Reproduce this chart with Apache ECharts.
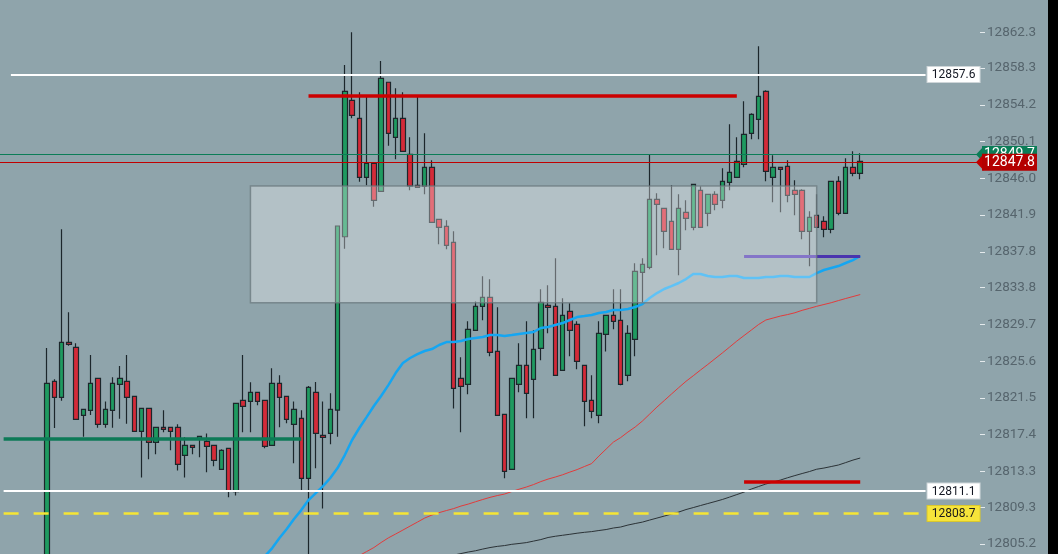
<!DOCTYPE html>
<html><head><meta charset="utf-8">
<script src="https://cdn.jsdelivr.net/npm/echarts@6.0.0/dist/echarts.min.js"></script>
<style>html,body{margin:0;padding:0;background:#000;}#c{width:1048px;height:554px;}</style>
</head><body><div id="c"></div>
<script>
// ---- data ----
const categories = Array.from({length: 135}, (_, i) => String(i + 1));
const firstSlot = 6;
const opens = [12800.0,12823.35,12821.56,12827.70,12827.14,12819.55,12820.11,12823.68,12818.55,12820.11,
12823.01,12823.35,12821.67,12817.77,12820.33,12816.54,12818.21,12818.21,12818.21,12815.09,
12816.20,12816.87,12816.65,12816.20,12813.53,12815.87,12811.03,12821.23,12821.11,12822.12,
12821.23,12816.20,12823.12,12821.67,12818.55,12819.22,12812.52,12822.12,12817.32,12817.54,
12820.14,12839.48,12854.71,12852.70,12846.11,12847.68,12844.55,12856.72,12850.58,12852.70,
12848.68,12845.22,12845.11,12847.23,12841.43,12840.65,12838.86,12823.68,12823.01,12829.04,
12831.72,12832.72,12826.69,12819.66,12813.53,12823.01,12825.13,12823.57,12827.03,12831.83,
12831.72,12824.57,12831.16,12829.71,12825.13,12821.23,12819.55,12828.59,12830.71,12830.15,
12824.02,12828.03,12835.51,12836.07,12843.66,12842.65,12841.20,12838.08,12842.21,12840.53,
12844.66,12842.10,12844.22,12843.55,12845.56,12846.11,12847.56,12851.02,12852.59,12855.71,
12846.11,12847.23,12847.34,12844.66,12844.66,12840.09,12841.87,12841.20,12840.31,12845.67,
12842.10,12847.23,12846.56];
const closes = [12823.12,12821.56,12827.70,12827.48,12819.11,12820.22,12823.12,12818.55,12820.22,12823.12,
12823.68,12821.56,12817.77,12820.33,12816.54,12818.21,12817.99,12817.77,12814.08,12816.20,
12815.98,12817.21,12816.09,12814.53,12815.65,12811.10,12820.89,12820.56,12822.12,12821.11,
12816.09,12823.12,12821.56,12819.11,12820.22,12812.52,12822.68,12817.54,12817.10,12820.22,
12840.68,12855.71,12853.03,12846.11,12847.68,12843.55,12857.16,12851.02,12852.70,12849.01,
12845.14,12845.00,12847.23,12841.09,12840.53,12838.52,12822.57,12822.79,12829.15,12831.72,
12832.72,12826.58,12819.55,12813.30,12823.68,12825.13,12822.01,12826.92,12832.16,12831.61,
12824.02,12830.71,12829.04,12825.58,12821.11,12820.00,12828.70,12830.71,12830.04,12823.01,
12828.70,12835.62,12836.40,12843.66,12843.10,12840.09,12838.08,12842.65,12841.54,12845.33,
12840.53,12844.22,12843.10,12845.67,12846.67,12847.90,12850.91,12853.14,12855.15,12846.78,
12847.23,12847.01,12844.10,12844.22,12840.09,12841.65,12840.53,12840.31,12845.67,12842.10,
12847.23,12846.56,12847.90];
const lows = [12799.5,12818.14,12821.18,12827.32,12819.11,12817.16,12819.59,12818.17,12818.17,12818.17,
12819.17,12818.61,12817.77,12812.63,12814.64,12815.20,12817.66,12815.65,12813.41,12812.63,
12815.20,12814.87,12813.19,12813.86,12813.53,12810.40,12810.62,12817.66,12817.66,12820.67,
12815.87,12816.20,12818.21,12818.66,12814.20,12811.22,12803.0,12813.64,12809.17,12816.32,
12817.16,12838.15,12852.70,12845.62,12845.22,12842.83,12844.55,12849.64,12848.12,12849.01,
12844.66,12845.00,12844.22,12841.09,12838.64,12838.08,12820.33,12817.66,12821.90,12829.04,
12830.15,12826.14,12819.55,12812.52,12813.53,12822.12,12819.22,12819.22,12825.69,12828.70,
12824.02,12824.57,12826.14,12824.69,12818.33,12819.22,12818.66,12826.69,12829.15,12822.90,
12823.35,12826.14,12832.16,12835.85,12837.41,12838.19,12838.08,12835.18,12840.20,12840.20,
12840.53,12840.65,12842.43,12842.65,12844.66,12846.11,12847.23,12850.35,12850.35,12845.67,
12843.32,12842.21,12843.32,12841.87,12839.19,12836.18,12840.53,12839.42,12839.86,12841.87,
12842.10,12846.23,12845.89];
const highs = [12827.06,12823.57,12840.31,12831.05,12827.59,12820.30,12826.28,12823.68,12821.11,12823.79,
12825.05,12826.28,12821.67,12820.33,12820.33,12818.21,12820.11,12818.21,12818.55,12817.10,
12816.20,12817.21,12817.54,12816.20,12815.76,12815.87,12820.89,12826.28,12823.24,12822.12,
12821.23,12824.80,12824.02,12821.67,12821.11,12820.11,12822.82,12823.27,12821.11,12822.01,
12840.68,12858.65,12862.30,12855.60,12855.11,12847.68,12859.09,12856.72,12856.05,12855.60,
12850.58,12855.11,12851.02,12848.01,12841.43,12841.31,12840.09,12826.03,12830.04,12832.27,
12835.06,12834.73,12831.61,12819.66,12823.68,12827.59,12830.04,12829.04,12833.61,12834.06,
12837.07,12832.61,12832.05,12830.04,12825.13,12824.02,12830.04,12830.71,12833.61,12833.61,
12829.60,12836.52,12837.07,12848.68,12844.33,12842.65,12845.22,12844.22,12843.55,12845.33,
12845.11,12844.22,12844.55,12847.12,12852.03,12850.58,12854.59,12853.26,12860.73,12855.82,
12848.57,12847.23,12848.01,12845.78,12844.77,12842.32,12844.22,12841.76,12845.67,12846.23,
12848.23,12849.01,12848.79];

// moving averages (value per candle, starting at given candle number)
const maBlueStart = 30;
const maBlue = [12802.85,12803.85,12804.74,12805.86,12806.86,12807.98,12808.98,12810.10,12810.88,12811.66,
12812.56,12813.67,12815.12,12816.80,12818.14,12819.36,12820.59,12821.71,12822.93,12824.27,
12825.39,12825.95,12826.39,12826.73,12826.95,12827.40,12827.73,12827.73,12827.84,12828.07,
12828.18,12828.29,12828.51,12828.51,12828.40,12828.51,12828.63,12828.74,12828.85,12829.30,
12829.41,12829.63,12829.85,12830.19,12830.52,12830.63,12830.75,12830.97,12831.08,12831.30,
12831.30,12831.42,12831.64,12831.97,12832.64,12833.20,12833.65,12833.98,12834.32,12834.76,
12835.32,12835.32,12835.10,12834.99,12834.99,12835.10,12835.10,12834.88,12834.88,12834.88,
12834.99,12834.99,12835.10,12835.10,12834.99,12834.99,12834.99,12835.43,12835.77,12835.99,
12836.21,12836.55,12836.88,12837.33];
const maRedStart = 43;
const maRed = [12803.40,12803.91,12804.35,12804.80,12805.36,12805.88,12806.31,12806.75,12807.20,12807.64,
12808.09,12808.43,12808.70,12808.93,12809.15,12809.43,12809.65,12809.91,12810.16,12810.40,
12810.60,12810.77,12811.05,12811.31,12811.55,12811.83,12812.16,12812.44,12812.67,12812.92,
12813.22,12813.50,12813.84,12814.17,12815.01,12815.79,12816.57,12817.07,12817.69,12818.25,
12818.92,12819.70,12820.48,12821.20,12821.93,12822.65,12823.35,12823.97,12824.61,12825.23,
12825.87,12826.51,12827.17,12827.84,12828.46,12829.07,12829.69,12830.19,12830.41,12830.63,
12830.80,12831.00,12831.27,12831.49,12831.72,12831.92,12832.12,12832.36,12832.59,12832.81,
12833.03];
const maBlackStart = 57;
const maBlack = [12803.96,12804.13,12804.30,12804.44,12804.63,12804.80,12804.93,12805.02,12805.16,12805.25,
12805.35,12805.52,12805.69,12805.92,12806.06,12806.17,12806.28,12806.40,12806.50,12806.58,
12806.70,12806.81,12806.98,12807.09,12807.31,12807.48,12807.64,12807.87,12808.09,12808.31,
12808.54,12808.76,12809.04,12809.26,12809.49,12809.71,12809.93,12810.16,12810.43,12810.71,
12810.99,12811.33,12811.61,12811.89,12812.11,12812.33,12812.59,12812.83,12813.06,12813.28,
12813.54,12813.67,12813.84,12814.01,12814.28,12814.56,12814.79];

// price axis ticks
const tickValues = [12805.2,12809.3,12813.3,12817.4,12821.5,12825.6,12829.7,12833.8,12837.8,12841.9,12846.0,12850.1,12854.2,12858.3,12862.3];

// horizontal levels [value, label]
const levelWhiteTop = [12857.6, '12857.6'];
const levelWhiteLow = [12811.1, '12811.1'];
const levelYellow = [12808.6, '12808.7'];
const levelGreen = [12848.65, '12849.7'];
const levelLast = [12847.8, '12847.8'];
// drawn segments [value, fromSlot, toSlot]
const segRedTop = [12855.2, 42, 101];
const segRedLow = [12812.15, 102, 118];
const segPurple = [12837.26, 102, 118];
const segGreen = [12816.91, 0, 41];
// zone [topValue, bottomValue, fromSlot, toSlot]
const zone = [12845.14, 12832.12, 34, 112];

// ---- build ----
const candleData = categories.map(() => '-');
opens.forEach((o, i) => { candleData[firstSlot + i] = [o, closes[i], lows[i], highs[i]]; });
function pad(arr, startCandle) {
  const out = categories.map(() => null);
  arr.forEach((v, i) => { out[firstSlot + startCandle - 1 + i] = v; });
  return out;
}
const cat = i => categories[i];
function seg(s, color, width) {
  return [{coord: [cat(s[1]), s[0]], lineStyle: {color: color, width: width, type: 'solid'}},
          {coord: [cat(s[2]), s[0]]}];
}
function boxLabel(text, bg, fg, border) {
  return {show: true, position: 'end', distance: 2, formatter: '{t|' + text + '}',
    rich: {t: {backgroundColor: bg, color: fg, borderColor: border, borderWidth: 1,
      width: 52, height: 14, align: 'center', verticalAlign: 'middle', padding: [1, 0, 0, 0],
      fontSize: 12, fontFamily: 'Roboto', lineHeight: 14}}};
}
function tagLabel(text, bg) {
  return {show: true, position: 'end', distance: 2, formatter: '{t|' + text + '}',
    rich: {t: {backgroundColor: bg, color: '#ffffff', width: 55, height: 17, align: 'center',
      verticalAlign: 'middle', fontSize: 14, fontFamily: 'Roboto', lineHeight: 17}}};
}
const arrowPath = 'path://M0,0 L10,0 L5,10 Z';

const chart = echarts.init(document.getElementById('c'), null, {renderer: 'canvas'});
chart.setOption({
  animation: false,
  backgroundColor: '#8fa4ab',
  grid: {left: -2, right: 68, top: 0, bottom: 0},
  xAxis: {type: 'category', data: categories, boundaryGap: true, show: false},
  yAxis: {
    type: 'value', position: 'right', min: 12804.08, max: 12865.9, scale: true,
    splitLine: {show: false}, axisLine: {show: false},
    axisTick: {show: true, length: 5, customValues: tickValues, lineStyle: {color: '#e4eaec', width: 1}},
    axisLabel: {show: true, customValues: tickValues, margin: 7, color: '#56656d', fontSize: 13.5,
      fontFamily: 'Roboto', formatter: v => v.toFixed(1)}
  },
  series: [
    {
      type: 'candlestick', data: candleData, barWidth: 5, z: 2,
      itemStyle: {color: '#1f9a60', color0: '#d42a38', borderColor: '#1c262b', borderColor0: '#1c262b', borderWidth: 1.2}
    },
    {type: 'line', data: pad(maBlack, maBlackStart), symbol: 'none', z: 3,
     lineStyle: {color: '#2b3236', width: 1}},
    {type: 'line', data: pad(maRed, maRedStart), symbol: 'none', z: 3,
     lineStyle: {color: '#e23b3b', width: 1}},
    {type: 'line', data: pad(maBlue, maBlueStart), symbol: 'none', z: 3,
     lineStyle: {color: '#14a6f2', width: 2.5}},
    {
      type: 'line', data: categories.map(() => null), z: 5, symbol: 'none',
      markLine: {
        silent: true, symbol: ['none', 'none'], animation: false, z: 5,
        label: {show: false},
        data: [
          seg(segGreen, '#0d7a57', 3.5),
          seg(segRedTop, '#cc0000', 3.5),
          seg(segRedLow, '#cc0000', 3.5),
          seg(segPurple, '#4a34ae', 3),
          [{coord: [cat(1), levelWhiteTop[0]], lineStyle: {color: '#ffffff', width: 2, type: 'solid'},
            label: boxLabel(levelWhiteTop[1], '#ffffff', '#131722', '#cfd6d9')},
           {coord: [cat(127), levelWhiteTop[0]]}],
          [{coord: [cat(0), levelWhiteLow[0]], lineStyle: {color: '#ffffff', width: 2, type: 'solid'},
            label: boxLabel(levelWhiteLow[1], '#ffffff', '#131722', '#cfd6d9')},
           {coord: [cat(127), levelWhiteLow[0]]}],
          [{coord: [cat(0), levelYellow[0]], lineStyle: {color: '#f6e534', width: 2.5, type: [15, 15]},
            label: boxLabel(levelYellow[1], '#f6e43a', '#1a1a1a', '#d9c72e')},
           {coord: [cat(127), levelYellow[0]]}]
        ]
      }
    },
    {
      type: 'line', data: categories.map(() => null), z: 6, symbol: 'none',
      markLine: {
        silent: true, animation: false, z: 6,
        symbol: ['none', arrowPath], symbolSize: [17, 8],
        data: [
          {yAxis: levelGreen[0], lineStyle: {color: '#0b7d57', width: 1.2, type: 'solid'},
           itemStyle: {color: '#0b7d57'}, label: tagLabel(levelGreen[1], '#0b7d57')},
          {yAxis: levelLast[0], lineStyle: {color: '#c00000', width: 1.2, type: 'solid'},
           itemStyle: {color: '#b40000'}, label: tagLabel(levelLast[1], '#b40000')}
        ]
      }
    },
    {
      type: 'line', data: categories.map(() => null), z: 20, symbol: 'none',
      markArea: {
        silent: true, z: 20,
        itemStyle: {color: 'rgba(255,255,255,0.32)', borderColor: 'rgba(105,120,126,0.75)', borderWidth: 1.5},
        data: [[{coord: [cat(zone[2]), zone[0]]}, {coord: [cat(zone[3]), zone[1]]}]]
      }
    }
  ]
});
</script></body></html>
